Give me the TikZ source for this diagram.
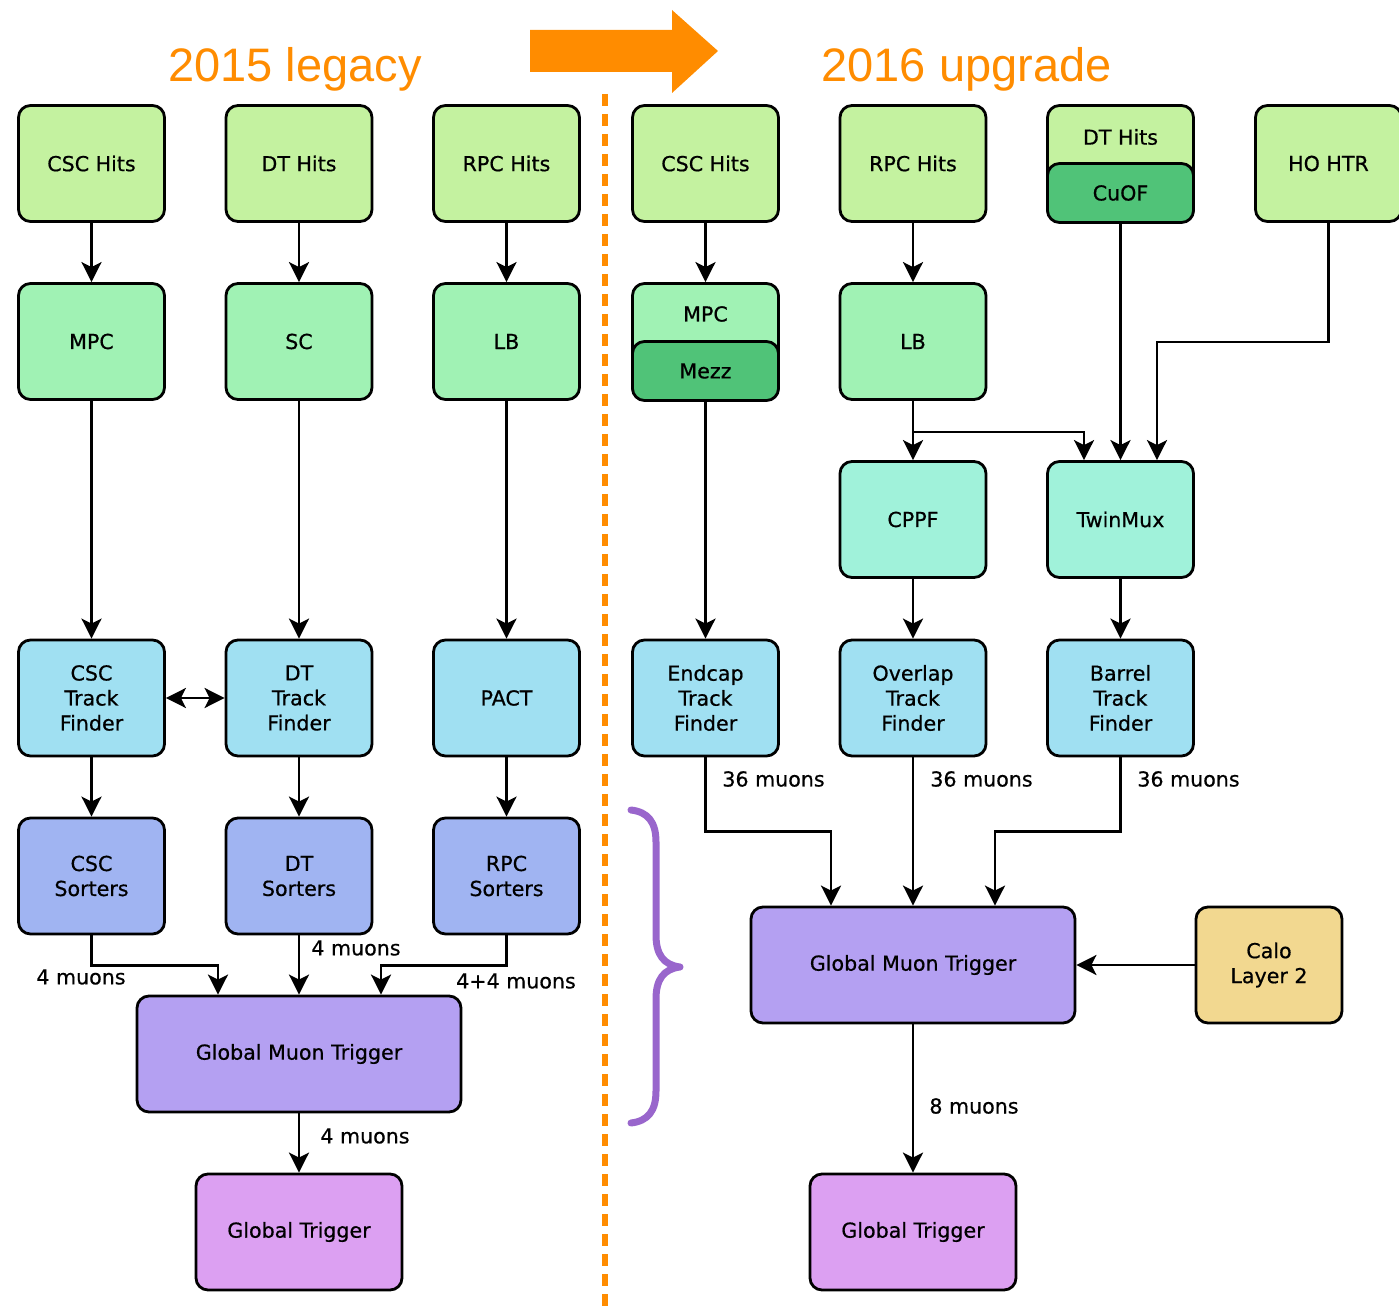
\documentclass[tikz,border=0pt]{standalone}
\usepackage{fontspec}
\setmainfont{DejaVu Sans}
\newfontfamily\boxfont[FakeBold=0.6]{DejaVu Sans}
\newfontfamily\titlefont{Liberation Sans}
\usetikzlibrary{arrows.meta}
\definecolor{hitsc}{HTML}{C4F2A0}
\definecolor{prec}{HTML}{A0F2B4}
\definecolor{mezzc}{HTML}{50C378}
\definecolor{muxc}{HTML}{A0F2DA}
\definecolor{tfc}{HTML}{A0E0F2}
\definecolor{sortc}{HTML}{A0B4F2}
\definecolor{gmtc}{HTML}{B4A0F2}
\definecolor{gtc}{HTML}{DCA0F2}
\definecolor{caloc}{HTML}{F2D890}
\definecolor{orangec}{HTML}{FF8C00}
\definecolor{bracec}{HTML}{9966CC}
\tikzset{
  box/.style={draw=black, line width=1.4pt, rounded corners=6pt,
    minimum width=73pt, minimum height=58pt, align=center,
    font=\boxfont\fontsize{10.3}{12.5}\selectfont, inner sep=0pt},
  widebox/.style={box, minimum width=162pt},
  halfbox/.style={box, minimum height=29.5pt},
  txt/.style={font=\boxfont\fontsize{10.3}{12.5}\selectfont, inner sep=0pt},
  lbl/.style={font=\boxfont\fontsize{10.3}{12}\selectfont, inner sep=0pt},
  ttl/.style={font=\titlefont\fontsize{23.5}{27}\selectfont, text=orangec, inner sep=0pt, anchor=base},
  arr/.style={draw=black, line width=1.3pt,
    -{Stealth[length=10pt, width=10pt, inset=2.5pt]}},
  dblarr/.style={arr, {Stealth[length=10pt, width=10pt, inset=2.5pt]}-{Stealth[length=10pt, width=10pt, inset=2.5pt]}},
}
\begin{document}
\begin{tikzpicture}[x=0.5pt, y=-0.5pt]
\useasboundingbox (0,0) rectangle (1399,1310);

% titles, transition arrow and separator
\node[ttl] (t15) at (295,82) {2015 legacy};
\node[ttl] (t16) at (966.5,82) {2016 upgrade};
\fill[orangec] (530,30) -- (672,30) -- (672,10) -- (718,51) -- (672,93)
  -- (672,72) -- (530,72) -- cycle;
\draw[orangec, line width=3pt, dash pattern=on 6pt off 4pt] (605,94) -- (605,1310);

% ---------------- 2015 legacy ----------------
\node[box, fill=hitsc] (lcsch) at (91.5,163.5) {CSC Hits};
\node[box, fill=hitsc] (ldth)  at (299,163.5) {DT Hits};
\node[box, fill=hitsc] (lrpch) at (506.5,163.5) {RPC Hits};
\node[box, fill=prec] (lmpc) at (91.5,341.5) {MPC};
\node[box, fill=prec] (lsc)  at (299,341.5) {SC};
\node[box, fill=prec] (llb)  at (506.5,341.5) {LB};
\node[box, fill=tfc] (lcsctf) at (91.5,698) {CSC\\Track\\Finder};
\node[box, fill=tfc] (ldttf)  at (299,698) {DT\\Track\\Finder};
\node[box, fill=tfc] (lpact)  at (506.5,698) {PACT};
\node[box, fill=sortc] (lcscs) at (91.5,876) {CSC\\Sorters};
\node[box, fill=sortc] (ldts)  at (299,876) {DT\\Sorters};
\node[box, fill=sortc] (lrpcs) at (506.5,876) {RPC\\Sorters};
\node[widebox, fill=gmtc] (lgmt) at (299,1054) {Global Muon Trigger};
\node[box, fill=gtc, minimum width=103pt] (lgt) at (299,1232) {Global Trigger};

\draw[arr] (lcsch) -- (lmpc);
\draw[arr] (ldth) -- (lsc);
\draw[arr] (lrpch) -- (llb);
\draw[arr] (lmpc) -- (lcsctf);
\draw[arr] (lsc) -- (ldttf);
\draw[arr] (llb) -- (lpact);
\draw[dblarr] (lcsctf) -- (ldttf);
\draw[arr] (lcsctf) -- (lcscs);
\draw[arr] (ldttf) -- (ldts);
\draw[arr] (lpact) -- (lrpcs);
\draw[arr] (lcscs.south) -- ++(0,30) -| ([xshift=-40.5pt]lgmt.north);
\draw[arr] (ldts) -- (lgmt);
\draw[arr] (lrpcs.south) -- ++(0,30) -| ([xshift=41pt]lgmt.north);
\draw[arr] (lgmt) -- (lgt);
\node[lbl] (l4a) at (81,977) {4 muons};
\node[lbl] (l4b) at (356,948) {4 muons};
\node[lbl] (l44) at (516,981) {4+4 muons};
\node[lbl] (l4c) at (365,1136) {4 muons};

% ---------------- 2016 upgrade ----------------
\node[box, fill=hitsc] (rcsch) at (705.5,163.5) {CSC Hits};
\node[box, fill=hitsc] (rrpch) at (913,163.5) {RPC Hits};
\node[box, fill=hitsc] (rdth)  at (1120.5,163.5) {};
\node[halfbox, fill=mezzc] (cuof) at (1120.5,193) {CuOF};
\node[txt] (rdtt) at (1120.5,137) {DT Hits};
\node[box, fill=hitsc] (hohtr) at (1328.5,163.5) {HO HTR};

\node[box, fill=prec] (rmpc) at (705.5,341.5) {};
\node[halfbox, fill=mezzc] (mezz) at (705.5,371) {Mezz};
\node[txt] (rmpct) at (705.5,314) {MPC};
\node[box, fill=prec] (rlb) at (913,341.5) {LB};

\node[box, fill=muxc] (cppf) at (913,519.5) {CPPF};
\node[box, fill=muxc] (tmux) at (1120.5,519.5) {TwinMux};

\node[box, fill=tfc] (emtf) at (705.5,698) {Endcap\\Track\\Finder};
\node[box, fill=tfc] (omtf) at (913,698) {Overlap\\Track\\Finder};
\node[box, fill=tfc] (bmtf) at (1120.5,698) {Barrel\\Track\\Finder};

\node[widebox, fill=gmtc] (rgmt) at (913,965) {Global Muon Trigger};
\node[box, fill=caloc] (calo) at (1269,965) {Calo\\Layer 2};
\node[box, fill=gtc, minimum width=103pt] (rgt) at (913,1232) {Global Trigger};

\draw[arr] (rcsch) -- (rmpc);
\draw[arr] (rrpch) -- (rlb);
\draw[arr] (mezz) -- (emtf);
\draw[arr] (rlb) -- (cppf);
\draw[arr] (rlb.south) ++(0,31) -| ([xshift=-18.25pt]tmux.north);
\draw[arr] (cuof) -- (tmux);
\draw[arr] (hohtr.south) -- ++(0,119) -| ([xshift=18.25pt]tmux.north);
\draw[arr] (cppf) -- (omtf);
\draw[arr] (tmux) -- (bmtf);
\draw[arr] (emtf.south) -- ++(0,74) -| ([xshift=-41pt]rgmt.north);
\draw[arr] (omtf) -- (rgmt);
\draw[arr] (bmtf.south) -- ++(0,74) -| ([xshift=41pt]rgmt.north);
\draw[arr] (calo) -- (rgmt);
\draw[arr] (rgmt) -- (rgt);
\node[lbl, anchor=west] (r36a) at (722,779) {36 muons};
\node[lbl, anchor=west] (r36b) at (930,779) {36 muons};
\node[lbl, anchor=west] (r36c) at (1137,779) {36 muons};
\node[lbl, anchor=west] (r8) at (929,1106) {8 muons};

% brace grouping the upgraded chain
\draw[bracec, line width=3.5pt, line cap=round, line join=round]
  (631,810) .. controls (648,812) and (656,822) .. (656,842) -- (656,935)
  .. controls (656,955) and (664,965) .. (680,967)
  .. controls (664,969) and (656,979) .. (656,999) -- (656,1091)
  .. controls (656,1111) and (648,1121) .. (631,1123);
\end{tikzpicture}
\end{document}
